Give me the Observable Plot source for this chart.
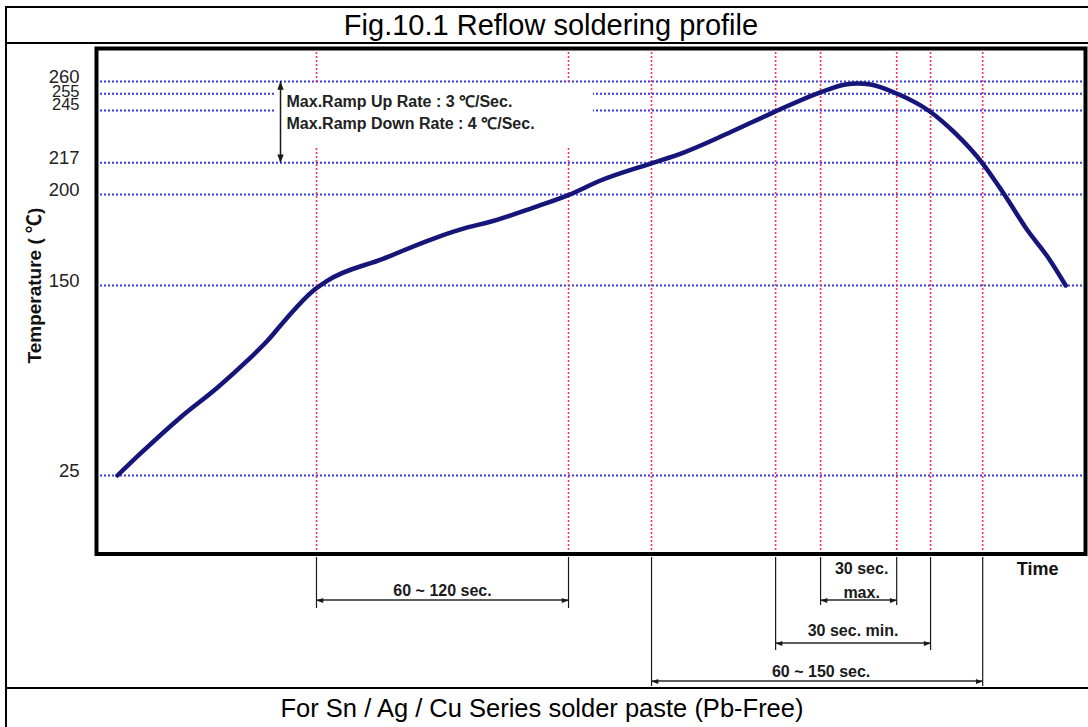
<!DOCTYPE html>
<html><head><meta charset="utf-8">
<script src="https://cdn.jsdelivr.net/npm/d3@7"></script>
<script src="https://cdn.jsdelivr.net/npm/@observablehq/plot@0.6"></script>
<style>
html,body{margin:0;padding:0;background:#fff;width:1088px;height:727px;overflow:hidden;font-family:"Liberation Sans",Arial,sans-serif;}
#title{position:absolute;left:5px;top:6px;width:1088px;height:34px;border:2px solid #000;text-align:center;font-size:29px;line-height:34px;color:#000;}
#chart{position:absolute;left:0;top:44px;}
#leftline{position:absolute;left:5px;top:44px;width:2px;height:645px;background:#000;}
#caption{position:absolute;left:5px;top:687px;width:1070px;padding-right:18px;height:40px;border-top:2px solid #000;border-left:2px solid #000;text-align:center;font-size:25.5px;line-height:38px;color:#000;}
</style></head>
<body>
<div id="title">Fig.10.1 Reflow soldering profile</div>
<div id="chart"></div>
<div id="leftline"></div>
<div id="caption">For Sn / Ag / Cu Series solder paste (Pb-Free)</div>
<script>
// ---- data ----
const yTicks = [25, 150, 200, 217, 245, 255, 260];
const markerTimes = [73.4, 157.5, 185.2, 226.6, 241.6, 267.0, 278.3, 295.7];
const profileTime = [7.0, 14.7, 28.0, 40.4, 50.4, 57.1, 63.7, 72.4, 77.1, 95.8, 112.5, 123.8, 130.5, 145.8, 157.2, 168.2, 184.9, 195.9, 210.6, 225.9, 241.3, 249.9, 253.9, 258.3, 267.0, 277.6, 286.6, 295.7, 302.7, 310.7, 317.3, 323.4];
const profileTemp = [25, 39.5, 63.2, 82.9, 100.7, 113.8, 129.0, 146.7, 152.7, 164.8, 175.8, 181.9, 184.6, 192.8, 199.5, 207.5, 216.6, 222.5, 232.7, 244.0, 255.5, 258.8, 259.2, 258.8, 255.1, 245.0, 232.7, 216.6, 200.5, 180.2, 165.9, 150];
const noteLines = ["Max.Ramp Up Rate : 3 ℃/Sec.", "Max.Ramp Down Rate : 4 ℃/Sec."];
const noteTemp = [250.4, 237.8];
const rampRange = [217, 260];
const dimFrom = [73.4, 241.6, 226.6, 185.2];
const dimTo = [157.5, 267.0, 278.3, 295.7];
const dimLabels = ["60 ~ 120 sec.", "30 sec.\nmax.", "30 sec. min.", "60 ~ 150 sec."];
const yLabel = "Temperature ( ℃)";
const xLabel = "Time";

// ---- layout ----
const W = 1088, H = 644, mT = 4, mB = 134.5, mL = 96, mR = 3;
const innerH = H - mT - mB;
const noteTime = 63.4, rampArrowTime = 61.4;
const noteBox = {x1: 59.4, x2: 165.8, y1: 224.7, y2: 258.8};
// offsets below the frame bottom for each dimension row
const dimLayout = [
  {ext: 54.5, arrow: 46.5, text: 41.5, dx: 0, lh: 1},
  {ext: 51.5, arrow: 46.5, text: 43.5, dx: 3, lh: 1.45},
  {ext: 96.5, arrow: 89.5, text: 81.5, dx: 0, lh: 1},
  {ext: 132.5, arrow: 127.5, text: 122.5, dx: 4, lh: 1}
];

const profile = profileTime.map((t, i) => ({t, temp: profileTemp[i]}));
const notes = noteLines.map((s, i) => ({s, temp: noteTemp[i]}));

const arrowHead = {
  draw(ctx, size) {
    const r = Math.sqrt(size / Math.PI);
    ctx.moveTo(0, 0);
    ctx.lineTo(r, 2.6 * r);
    ctx.lineTo(-r, 2.6 * r);
    ctx.closePath();
  }
};

const blue = "#3a3ad6", red = "#ff3352", ink = "#1a1a1a";

const dimMarks = [];
dimFrom.forEach((a, i) => {
  const b = dimTo[i], L = dimLayout[i];
  dimMarks.push(
    Plot.ruleX([a, b], {x: d => d, stroke: ink, strokeWidth: 1.2, insetTop: innerH + 3.5, insetBottom: -L.ext}),
    Plot.rect([{a, b}], {x1: "a", x2: "b", fill: ink, insetTop: innerH + L.arrow - 0.7, insetBottom: -(L.arrow + 0.7)}),
    Plot.dot([a], {x: d => d, frameAnchor: "bottom", dy: L.arrow, symbol: arrowHead, r: 2.6, rotate: -90, fill: ink, stroke: "none"}),
    Plot.dot([b], {x: d => d, frameAnchor: "bottom", dy: L.arrow, symbol: arrowHead, r: 2.6, rotate: 90, fill: ink, stroke: "none"}),
    Plot.text([dimLabels[i]], {x: () => (a + b) / 2, text: d => d, frameAnchor: "bottom", dy: L.text, dx: L.dx, lineHeight: L.lh, fontSize: 16, fontWeight: "bold", fill: ink})
  );
});

const mainTicks = yTicks.filter(d => d !== 255 && d !== 245);

const chart = Plot.plot({
  width: W, height: H,
  marginTop: mT, marginBottom: mB, marginLeft: mL, marginRight: mR,
  style: {background: "transparent", fontFamily: "'Liberation Sans', Arial, sans-serif"},
  x: {domain: [0, 330], axis: null},
  y: {type: "linear", domain: yTicks, range: [431, 241, 150, 118.3, 66, 49.3, 37], axis: null},
  marks: [
    Plot.ruleY(yTicks, {y: d => d, stroke: blue, strokeWidth: 2, strokeDasharray: "2,2"}),
    Plot.ruleX(markerTimes, {x: d => d, stroke: red, strokeWidth: 1.6, strokeDasharray: "2,2"}),
    Plot.rect([noteBox], {x1: "x1", x2: "x2", y1: "y1", y2: "y2", fill: "white"}),
    Plot.ruleX([rampArrowTime], {x: d => d, y1: rampRange[0], y2: rampRange[1], stroke: ink, strokeWidth: 1.5}),
    Plot.dot([rampRange[1]], {x: () => rampArrowTime, y: d => d, symbol: arrowHead, r: 3.2, rotate: 0, fill: ink, stroke: "none"}),
    Plot.dot([rampRange[0]], {x: () => rampArrowTime, y: d => d, symbol: arrowHead, r: 3.2, rotate: 180, fill: ink, stroke: "none"}),
    Plot.text(notes, {x: () => noteTime, y: "temp", text: "s", textAnchor: "start", fontSize: 16, fontWeight: "bold", fill: "#222"}),
    Plot.line(profile, {x: "t", y: "temp", stroke: "#15157a", strokeWidth: 4.5, curve: "monotone-x", strokeLinejoin: "round"}),
    Plot.frame({stroke: "#000", strokeWidth: 4}),
    Plot.text(mainTicks, {y: d => d, text: d => String(d), frameAnchor: "left", textAnchor: "end", dx: -17, dy: -4.5, fontSize: 18.5, fill: "#222"}),
    Plot.text([255], {y: d => d, text: d => String(d), frameAnchor: "left", textAnchor: "end", dx: -17, dy: -2.5, fontSize: 16.5, fill: "#222"}),
    Plot.text([245], {y: d => d, text: d => String(d), frameAnchor: "left", textAnchor: "end", dx: -17, dy: -6, fontSize: 16.5, fill: "#222"}),
    Plot.text([yLabel], {text: d => d, frameAnchor: "top-left", rotate: -90, textAnchor: "start", dx: -69.5, dy: 315, fontSize: 19, fontWeight: "bold", fill: "#111", fontFamily: "'Liberation Sans', 'Noto Sans CJK KR', sans-serif"}),
    Plot.text([xLabel], {text: d => d, frameAnchor: "bottom-right", textAnchor: "end", dx: -27, dy: 20.5, fontSize: 18, fontWeight: "bold", fill: "#111"}),
    ...dimMarks
  ]
});
document.getElementById("chart").appendChild(chart);
</script>
</body></html>
